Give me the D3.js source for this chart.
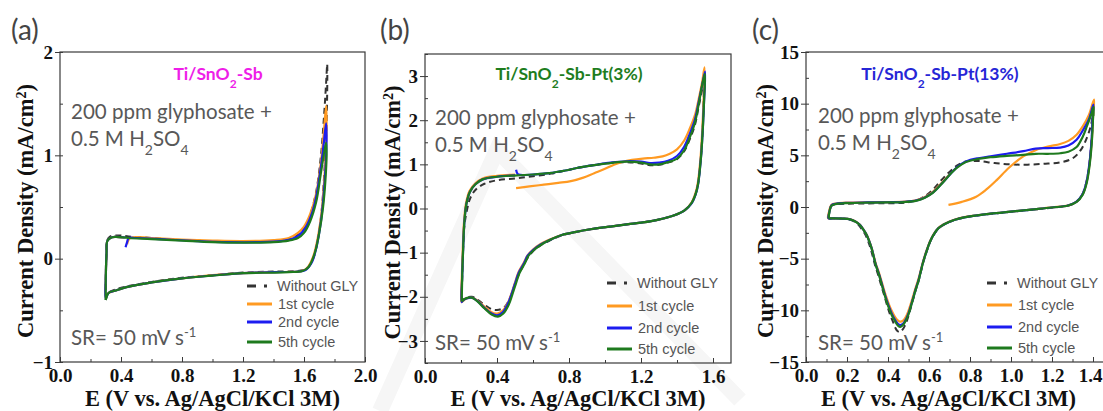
<!DOCTYPE html>
<html>
<head>
<meta charset="utf-8">
<script src="https://cdn.jsdelivr.net/npm/d3@7"></script>
<style>
  body { margin: 0; background: #fff; }
</style>
</head>
<body>
<script>
// legend names and colours, same order in every panel
var seriesNames = ["Without GLY", "1st cycle", "2nd cycle", "5th cycle"];
var seriesColors = ["#333333", "#ff9a22", "#1c1cf0", "#1e7a1e"];

// ---- panel (a) Ti/SnO2-Sb : [E, j]
var aWithout = [[0.30,-0.40],[0.30,-0.2],[0.305,0.05],[0.31,0.18],[0.33,0.215],[0.38,0.225],[0.45,0.215],[0.6,0.2],[0.8,0.18],[1.0,0.17],[1.2,0.165],[1.4,0.17],[1.5,0.19],[1.56,0.23],[1.6,0.29],[1.64,0.42],[1.68,0.65],[1.71,0.98],[1.73,1.35],[1.745,1.7],[1.752,1.88],
  [1.752,1.6],[1.745,1.2],[1.73,0.75],[1.715,0.45],[1.69,0.18],[1.66,0.0],[1.62,-0.09],[1.58,-0.115],[1.4,-0.125],[1.2,-0.135],[1.0,-0.16],[0.8,-0.185],[0.6,-0.225],[0.45,-0.265],[0.36,-0.3],[0.32,-0.33],[0.30,-0.40]];
var aCycle1 = [[0.44,0.14],[0.46,0.2],[0.6,0.2],[0.8,0.185],[1.0,0.175],[1.2,0.17],[1.4,0.18],[1.5,0.2],[1.56,0.25],[1.6,0.31],[1.64,0.43],[1.68,0.63],[1.71,0.92],[1.73,1.22],[1.745,1.48],
  [1.748,1.3],[1.742,1.0],[1.73,0.7],[1.715,0.45],[1.69,0.2],[1.66,0.02],[1.62,-0.09],[1.58,-0.12],[1.4,-0.13],[1.2,-0.14],[1.0,-0.16],[0.8,-0.19],[0.6,-0.23],[0.45,-0.27],[0.36,-0.31],[0.32,-0.33],[0.30,-0.36],
  [0.30,-0.2],[0.305,0.05],[0.31,0.17],[0.33,0.2],[0.36,0.21],[0.42,0.205]];
var aCycle2 = [[0.43,0.11],[0.44,0.16],[0.45,0.2],[0.5,0.2],[0.7,0.185],[0.9,0.17],[1.1,0.16],[1.3,0.16],[1.45,0.17],[1.52,0.19],[1.57,0.23],[1.61,0.3],[1.65,0.43],[1.68,0.6],[1.71,0.88],[1.73,1.12],[1.745,1.31],
  [1.748,1.15],[1.742,0.9],[1.728,0.6],[1.71,0.35],[1.68,0.1],[1.65,-0.04],[1.61,-0.11],[1.56,-0.125],[1.4,-0.13],[1.2,-0.14],[1.0,-0.163],[0.8,-0.19],[0.6,-0.23],[0.45,-0.27],[0.36,-0.31],[0.32,-0.33],[0.30,-0.38],
  [0.30,-0.2],[0.305,0.05],[0.31,0.17],[0.33,0.2],[0.36,0.21],[0.43,0.205]];
var aCycle5 = [[0.30,-0.40],[0.30,-0.2],[0.305,0.05],[0.31,0.17],[0.33,0.2],[0.36,0.21],[0.45,0.2],[0.6,0.19],[0.8,0.175],[1.0,0.16],[1.2,0.155],[1.4,0.16],[1.5,0.175],[1.56,0.2],[1.6,0.25],[1.64,0.36],[1.68,0.55],[1.71,0.82],[1.735,1.05],[1.745,1.12],
  [1.748,1.0],[1.74,0.75],[1.725,0.5],[1.70,0.25],[1.67,0.05],[1.63,-0.08],[1.59,-0.12],[1.5,-0.13],[1.4,-0.135],[1.2,-0.14],[1.0,-0.165],[0.8,-0.19],[0.6,-0.23],[0.45,-0.27],[0.36,-0.31],[0.32,-0.33],[0.30,-0.40]];

// ---- panel (b) Ti/SnO2-Sb-Pt(3%)
var bWithout = [[0.204,-2.11],[0.207,-1.5],[0.212,-0.9],[0.22,-0.35],[0.235,0.0],[0.25,0.22],[0.28,0.42],[0.33,0.56],[0.40,0.64],[0.5,0.68],[0.6,0.73],[0.7,0.79],[0.78,0.86],[0.86,0.93],[0.95,0.99],[1.03,1.03],[1.12,1.05],[1.2,1.02],[1.25,0.98],[1.3,0.99],[1.35,1.04],[1.40,1.12],[1.44,1.3],[1.47,1.56],[1.50,1.9],[1.52,2.3],[1.54,2.7],[1.55,2.95],
  [1.547,2.3],[1.54,1.6],[1.53,1.05],[1.51,0.42],[1.48,0.12],[1.44,-0.05],[1.40,-0.13],[1.33,-0.22],[1.25,-0.29],[1.14,-0.35],[1.03,-0.41],[0.92,-0.47],[0.84,-0.53],[0.76,-0.61],[0.69,-0.73],[0.64,-0.84],[0.60,-0.97],[0.57,-1.12],[0.545,-1.3],[0.515,-1.55],[0.49,-1.82],[0.47,-2.05],[0.44,-2.24],[0.40,-2.3],[0.37,-2.28],[0.33,-2.18],[0.29,-2.06],[0.26,-2.0],[0.23,-2.02],[0.21,-2.08],[0.204,-2.11]];
var bCycle1 = [[0.506,0.46],[0.58,0.5],[0.66,0.54],[0.74,0.58],[0.81,0.62],[0.88,0.7],[0.94,0.8],[1.0,0.9],[1.05,0.99],[1.1,1.06],[1.15,1.1],[1.21,1.13],[1.27,1.15],[1.32,1.18],[1.36,1.24],[1.40,1.34],[1.44,1.54],[1.47,1.8],[1.50,2.12],[1.52,2.47],[1.54,2.87],[1.553,3.2],
  [1.548,2.5],[1.54,1.75],[1.53,1.12],[1.51,0.46],[1.48,0.13],[1.44,-0.05],[1.40,-0.13],[1.33,-0.22],[1.25,-0.29],[1.14,-0.35],[1.03,-0.41],[0.92,-0.47],[0.84,-0.53],[0.76,-0.6],[0.69,-0.71],[0.64,-0.81],[0.60,-0.93],[0.57,-1.06],[0.55,-1.22],[0.52,-1.44],[0.50,-1.68],[0.48,-1.93],[0.46,-2.14],[0.43,-2.32],[0.40,-2.38],[0.37,-2.35],[0.33,-2.22],[0.29,-2.08],[0.26,-2.02],[0.23,-2.04],[0.21,-2.1],[0.203,-2.12],
  [0.205,-1.5],[0.21,-0.9],[0.216,-0.35],[0.228,0.12],[0.248,0.4],[0.28,0.57],[0.32,0.68],[0.40,0.74],[0.50,0.77]];
var bCycle2 = [[0.506,0.88],[0.515,0.78],[0.53,0.76],[0.6,0.77],[0.69,0.8],[0.78,0.86],[0.86,0.93],[0.95,0.99],[1.03,1.04],[1.12,1.07],[1.2,1.06],[1.25,1.03],[1.3,1.04],[1.35,1.08],[1.40,1.19],[1.44,1.4],[1.47,1.68],[1.50,2.02],[1.52,2.4],[1.54,2.8],[1.556,3.1],
  [1.55,2.4],[1.542,1.7],[1.532,1.1],[1.512,0.44],[1.482,0.12],[1.44,-0.05],[1.40,-0.13],[1.33,-0.22],[1.25,-0.29],[1.14,-0.35],[1.03,-0.41],[0.92,-0.47],[0.84,-0.53],[0.76,-0.6],[0.69,-0.72],[0.64,-0.82],[0.60,-0.94],[0.57,-1.07],[0.55,-1.24],[0.52,-1.46],[0.50,-1.7],[0.48,-1.95],[0.46,-2.16],[0.43,-2.36],[0.40,-2.42],[0.37,-2.38],[0.33,-2.25],[0.29,-2.09],[0.26,-2.02],[0.23,-2.04],[0.21,-2.09],[0.204,-2.12],
  [0.207,-1.5],[0.212,-0.9],[0.218,-0.35],[0.23,0.1],[0.25,0.38],[0.28,0.55],[0.32,0.66],[0.40,0.72],[0.50,0.75]];
var bCycle5 = [[0.204,-2.11],[0.207,-1.5],[0.212,-0.9],[0.218,-0.35],[0.23,0.1],[0.25,0.38],[0.28,0.55],[0.32,0.66],[0.40,0.72],[0.51,0.75],[0.60,0.77],[0.69,0.8],[0.78,0.86],[0.86,0.93],[0.95,0.99],[1.03,1.03],[1.12,1.06],[1.2,1.04],[1.25,1.0],[1.3,1.0],[1.35,1.05],[1.40,1.13],[1.44,1.32],[1.47,1.6],[1.50,1.95],[1.52,2.35],[1.54,2.8],[1.555,3.05],
  [1.55,2.4],[1.542,1.7],[1.532,1.1],[1.512,0.45],[1.482,0.13],[1.44,-0.05],[1.40,-0.13],[1.33,-0.22],[1.25,-0.29],[1.14,-0.35],[1.03,-0.41],[0.92,-0.47],[0.84,-0.53],[0.76,-0.6],[0.69,-0.72],[0.645,-0.82],[0.605,-0.94],[0.575,-1.07],[0.555,-1.24],[0.525,-1.46],[0.505,-1.7],[0.485,-1.95],[0.465,-2.18],[0.435,-2.38],[0.405,-2.45],[0.37,-2.4],[0.33,-2.26],[0.29,-2.1],[0.26,-2.02],[0.23,-2.03],[0.21,-2.08],[0.204,-2.11]];

// ---- panel (c) Ti/SnO2-Sb-Pt(13%)
var cWithout = [[0.11,-1.1],[0.115,-0.4],[0.125,0.12],[0.15,0.26],[0.2,0.32],[0.3,0.35],[0.4,0.36],[0.48,0.42],[0.54,0.65],[0.58,1.05],[0.62,1.7],[0.66,2.6],[0.70,3.4],[0.74,4.05],[0.78,4.4],[0.84,4.45],[0.92,4.25],[1.0,4.12],[1.08,4.1],[1.16,4.18],[1.24,4.32],[1.30,4.7],[1.34,5.5],[1.37,6.7],[1.39,7.9],[1.402,9.2],
  [1.398,7.8],[1.39,5.8],[1.38,3.8],[1.365,2.2],[1.345,1.1],[1.315,0.42],[1.275,0.12],[1.2,-0.07],[1.1,-0.27],[1.0,-0.47],[0.9,-0.67],[0.8,-0.92],[0.75,-1.12],[0.70,-1.44],[0.67,-1.75],[0.645,-2.1],[0.625,-2.65],[0.605,-3.4],[0.588,-4.35],[0.572,-5.35],[0.56,-6.3],[0.547,-7.3],[0.533,-8.2],[0.52,-9.1],[0.506,-10.1],[0.494,-10.9],[0.482,-11.5],[0.47,-11.9],[0.458,-12.1],[0.446,-12.0],[0.436,-11.7],[0.424,-11.1],[0.41,-10.4],[0.397,-9.6],[0.384,-8.7],[0.37,-7.8],[0.354,-6.7],[0.338,-5.7],[0.326,-4.8],[0.315,-4.0],[0.303,-3.3],[0.29,-2.7],[0.274,-2.2],[0.257,-1.75],[0.235,-1.4],[0.21,-1.2],[0.17,-1.12],[0.13,-1.1],[0.11,-1.1]];
var cCycle1 = [[0.695,0.2],[0.76,0.5],[0.83,1.0],[0.88,1.7],[0.93,2.6],[0.99,3.8],[1.06,4.9],[1.12,5.5],[1.18,5.85],[1.24,6.1],[1.28,6.4],[1.32,7.0],[1.35,7.8],[1.38,8.9],[1.405,10.4],
  [1.40,8.8],[1.395,6.7],[1.385,4.5],[1.37,2.5],[1.35,1.25],[1.32,0.52],[1.28,0.16],[1.2,-0.04],[1.1,-0.24],[1.0,-0.44],[0.9,-0.64],[0.8,-0.88],[0.75,-1.08],[0.70,-1.4],[0.67,-1.7],[0.645,-2.05],[0.625,-2.55],[0.605,-3.3],[0.588,-4.2],[0.572,-5.2],[0.56,-6.1],[0.548,-7.0],[0.535,-7.8],[0.523,-8.6],[0.51,-9.45],[0.499,-10.1],[0.488,-10.6],[0.478,-10.9],[0.468,-11.05],[0.459,-11.1],[0.45,-11.0],[0.442,-10.85],[0.43,-10.5],[0.418,-10.05],[0.406,-9.5],[0.394,-8.85],[0.382,-8.1],[0.37,-7.3],[0.355,-6.3],[0.34,-5.45],[0.33,-4.7],[0.32,-3.95],[0.308,-3.25],[0.296,-2.68],[0.28,-2.18],[0.263,-1.72],[0.24,-1.38],[0.215,-1.19],[0.18,-1.12],[0.13,-1.1],[0.108,-1.1],
  [0.113,-0.4],[0.123,0.2],[0.15,0.34],[0.2,0.42],[0.3,0.46],[0.4,0.48],[0.48,0.52],[0.54,0.68],[0.58,0.98],[0.62,1.5],[0.66,2.3],[0.70,3.15]];
var cCycle2 = [[0.70,3.1],[0.74,3.9],[0.78,4.4],[0.84,4.72],[0.90,4.9],[0.98,5.15],[1.06,5.4],[1.12,5.65],[1.18,5.7],[1.24,5.75],[1.28,5.95],[1.32,6.5],[1.35,7.4],[1.38,8.5],[1.402,9.9],
  [1.398,8.6],[1.393,6.5],[1.383,4.3],[1.368,2.4],[1.348,1.2],[1.318,0.5],[1.278,0.15],[1.2,-0.05],[1.1,-0.25],[1.0,-0.45],[0.9,-0.65],[0.8,-0.9],[0.75,-1.1],[0.70,-1.42],[0.67,-1.72],[0.645,-2.07],[0.625,-2.6],[0.605,-3.35],[0.588,-4.28],[0.572,-5.28],[0.56,-6.2],[0.548,-7.15],[0.535,-7.95],[0.523,-8.8],[0.51,-9.68],[0.499,-10.35],[0.488,-10.85],[0.478,-11.2],[0.468,-11.38],[0.459,-11.42],[0.45,-11.33],[0.442,-11.15],[0.43,-10.78],[0.418,-10.3],[0.406,-9.72],[0.394,-9.05],[0.382,-8.3],[0.37,-7.45],[0.355,-6.42],[0.34,-5.55],[0.33,-4.76],[0.32,-3.98],[0.308,-3.28],[0.296,-2.7],[0.28,-2.19],[0.263,-1.73],[0.24,-1.39],[0.215,-1.2],[0.18,-1.12],[0.13,-1.1],[0.11,-1.1],
  [0.115,-0.4],[0.125,0.18],[0.15,0.32],[0.2,0.4],[0.3,0.44],[0.4,0.46],[0.48,0.5],[0.54,0.64],[0.58,0.93],[0.62,1.42],[0.66,2.22],[0.70,3.1]];
var cCycle5 = [[0.11,-1.1],[0.115,-0.4],[0.125,0.15],[0.15,0.3],[0.2,0.38],[0.3,0.42],[0.4,0.44],[0.48,0.48],[0.54,0.62],[0.58,0.9],[0.62,1.4],[0.66,2.2],[0.70,3.1],[0.74,3.85],[0.78,4.35],[0.84,4.65],[0.90,4.82],[0.98,4.95],[1.06,5.05],[1.12,5.15],[1.18,5.15],[1.24,5.2],[1.28,5.35],[1.32,5.8],[1.35,6.8],[1.37,7.8],[1.39,8.9],[1.403,9.7],
  [1.40,8.5],[1.395,6.5],[1.385,4.3],[1.37,2.4],[1.35,1.2],[1.32,0.5],[1.28,0.15],[1.2,-0.05],[1.1,-0.25],[1.0,-0.45],[0.9,-0.65],[0.8,-0.9],[0.75,-1.1],[0.70,-1.42],[0.67,-1.72],[0.645,-2.07],[0.625,-2.6],[0.605,-3.36],[0.588,-4.3],[0.572,-5.3],[0.56,-6.25],[0.548,-7.2],[0.535,-8.0],[0.523,-8.84],[0.51,-9.75],[0.499,-10.45],[0.488,-10.95],[0.478,-11.3],[0.468,-11.5],[0.459,-11.6],[0.45,-11.5],[0.442,-11.3],[0.43,-10.9],[0.418,-10.45],[0.406,-9.85],[0.394,-9.2],[0.382,-8.4],[0.37,-7.55],[0.355,-6.5],[0.34,-5.6],[0.33,-4.8],[0.32,-4.0],[0.308,-3.3],[0.296,-2.71],[0.28,-2.2],[0.263,-1.74],[0.24,-1.4],[0.215,-1.2],[0.18,-1.12],[0.13,-1.1],[0.11,-1.1]];

// axis ticks
var aXTicks = [0, 0.4, 0.8, 1.2, 1.6, 2.0], aYTicks = [-1, 0, 1, 2];
var bXTicks = [0, 0.4, 0.8, 1.2, 1.6], bYTicks = [-3, -2, -1, 0, 1, 2, 3];
var cXTicks = [0, 0.2, 0.4, 0.6, 0.8, 1.0, 1.2, 1.4], cYTicks = [-15, -10, -5, 0, 5, 10, 15];

var W = 1103, H = 411;
var serif = "'Liberation Serif', 'Times New Roman', serif",
    sans = "Lato, 'Open Sans', sans-serif";

var svg = d3.select("body").append("svg")
  .attr("width", W).attr("height", H);

var panels = [
  {id: "a", letter: "(a)", letterX: 11, title: ["Ti/SnO", "2", "-Sb"], titleColor: "#ee1ee8", titleX: 218,
   x0: 60, x1: 365, xDomain: [0, 2.0], y0: 362, y1: 52, yDomain: [-1, 2],
   xTicks: aXTicks, xMinor: d3.range(0, 2.01, 0.2), yTicks: aYTicks, yMinor: d3.range(-1, 2.01, 0.5),
   yTitleX: 33, noteX: 71, noteY: 119, srY: 345, legX: 247, legY: [286, 304, 322, 342],
   data: [aWithout, aCycle1, aCycle2, aCycle5]},
  {id: "b", letter: "(b)", letterX: 380, title: ["Ti/SnO", "2", "-Sb-Pt(3%)"], titleColor: "#1e7d1e", titleX: 569,
   x0: 425, x1: 731, xDomain: [0, 1.7], y0: 363, y1: 54, yDomain: [-3.5, 3.5],
   xTicks: bXTicks, xMinor: d3.range(0, 1.71, 0.2), yTicks: bYTicks, yMinor: d3.range(-3.5, 3.51, 0.5),
   yTitleX: 400, noteX: 435, noteY: 125, srY: 350, legX: 607, legY: [283, 306, 328, 349],
   data: [bWithout, bCycle1, bCycle2, bCycle5]},
  {id: "c", letter: "(c)", letterX: 752, title: ["Ti/SnO", "2", "-Sb-Pt(13%)"], titleColor: "#2626d6", titleX: 940,
   x0: 806, x1: 1113.5, xDomain: [0, 1.5], y0: 362, y1: 52, yDomain: [-15, 15],
   xTicks: cXTicks, xMinor: d3.range(0, 1.51, 0.1), yTicks: cYTicks, yMinor: d3.range(-15, 15.1, 2.5),
   yTitleX: 773, noteX: 818, noteY: 123, srY: 350, legX: 987, legY: [283, 305, 327, 348],
   data: [cWithout, cCycle1, cCycle2, cCycle5]}
];

// faint watermark behind panel (b)
svg.append("path")
  .attr("d", "M380,411 L497,150 L740,400")
  .attr("fill", "none").attr("stroke", "#f6f6f6").attr("stroke-width", 16);

panels.forEach(function(p) {
  var x = d3.scaleLinear().domain(p.xDomain).range([p.x0, p.x1]);
  var y = d3.scaleLinear().domain(p.yDomain).range([p.y0, p.y1]);
  var g = svg.append("g");

  g.append("clipPath").attr("id", "clip-" + p.id)
    .append("rect").attr("x", p.x0).attr("y", p.y1)
    .attr("width", p.x1 - p.x0).attr("height", p.y0 - p.y1);

  // panel letter
  g.append("text").attr("x", p.letterX).attr("y", 40)
    .style("font-family", sans).style("font-size", "28px")
    .attr("fill", "#444").text(p.letter);

  // frame
  g.append("rect").attr("x", p.x0).attr("y", p.y1)
    .attr("width", p.x1 - p.x0).attr("height", p.y0 - p.y1)
    .attr("fill", "none").attr("stroke", "#3a3a3a").attr("stroke-width", 1.2);

  // x axis: ticks pointing into the box
  var xMinorAxis = d3.axisBottom(x).tickValues(p.xMinor).tickSize(-3).tickFormat("");
  g.append("g").attr("transform", "translate(0," + p.y0 + ")").call(xMinorAxis)
    .call(function(s) { s.select(".domain").remove(); });
  var xAxis = d3.axisBottom(x).tickValues(p.xTicks).tickSize(-5).tickPadding(7)
    .tickFormat(d3.format(".1f"));
  g.append("g").attr("transform", "translate(0," + p.y0 + ")").call(xAxis)
    .call(function(s) {
      s.select(".domain").remove();
      s.selectAll("text").style("font-family", serif)
        .style("font-size", "19px").style("font-weight", "bold").attr("fill", "#111")
        .attr("dx", function(d) { return (p.id == "c" && d == 1.4) ? -3 : 0; });
    });

  // y axis: major ticks outward, minor inward
  var yMinorAxis = d3.axisRight(y).tickValues(p.yMinor).tickSize(3).tickFormat("");
  g.append("g").attr("transform", "translate(" + p.x0 + ",0)").call(yMinorAxis)
    .call(function(s) { s.select(".domain").remove(); });
  var yAxis = d3.axisLeft(y).tickValues(p.yTicks).tickSize(5).tickPadding(2)
    .tickFormat(d3.format("d"));
  g.append("g").attr("transform", "translate(" + p.x0 + ",0)").call(yAxis)
    .call(function(s) {
      s.select(".domain").remove();
      s.selectAll("text").style("font-family", serif)
        .style("font-size", "19px").style("font-weight", "bold").attr("fill", "#111");
    });
  g.selectAll(".tick line").attr("stroke", "#3a3a3a");

  // axis titles
  g.append("text").attr("x", (p.x0 + Math.min(p.x1, W)) / 2 + (p.id == "c" ? -6 : 0)).attr("y", 406)
    .attr("text-anchor", "middle").style("font-family", serif)
    .style("font-size", "22.5px").style("font-weight", "bold")
    .attr("fill", "#111").text("E (V vs. Ag/AgCl/KCl 3M)");
  var yt = g.append("text")
    .attr("transform", "translate(" + p.yTitleX + "," + ((p.y0 + p.y1) / 2 + 4) + ") rotate(-90)")
    .attr("text-anchor", "middle").style("font-family", serif)
    .style("font-size", "22.5px").style("font-weight", "bold")
    .attr("fill", "#111");
  yt.append("tspan").text("Current Density (mA/cm");
  yt.append("tspan").attr("baseline-shift", "super").style("font-size", "14px").text("2");
  yt.append("tspan").text(")");

  // title of the electrode
  var tt = g.append("text").attr("x", p.titleX).attr("y", 80).attr("text-anchor", "middle")
    .style("font-family", sans).style("font-size", "17.5px").style("font-weight", "bold")
    .attr("fill", p.titleColor);
  tt.append("tspan").text(p.title[0]);
  tt.append("tspan").attr("baseline-shift", "sub").style("font-size", "12px").text(p.title[1]);
  tt.append("tspan").text(p.title[2]);

  // notes
  function note(yy) {
    return g.append("text").attr("x", p.noteX).attr("y", yy)
      .style("font-family", sans).style("font-size", "20.5px").attr("fill", "#585858");
  }
  note(p.noteY).text("200 ppm glyphosate +");
  var n2 = note(p.noteY + 27);
  n2.append("tspan").text("0.5 M H");
  n2.append("tspan").attr("baseline-shift", "sub").style("font-size", "14px").text("2");
  n2.append("tspan").text("SO");
  n2.append("tspan").attr("baseline-shift", "sub").style("font-size", "14px").text("4");
  var sr = note(p.srY);
  sr.append("tspan").text("SR= 50 mV s");
  sr.append("tspan").attr("baseline-shift", "super").style("font-size", "13px").text("-1");

  // curves
  var line = d3.line().x(function(d) { return x(d[0]); }).y(function(d) { return y(d[1]); })
    .curve(d3.curveCatmullRom.alpha(0.5));
  var cg = g.append("g").attr("clip-path", "url(#clip-" + p.id + ")");
  p.data.forEach(function(s, i) {
    cg.append("path").datum(s).attr("d", line)
      .attr("fill", "none").attr("stroke", seriesColors[i])
      .attr("stroke-width", i == 0 ? 2 : 2.2)
      .attr("stroke-dasharray", i == 0 ? "6,4" : null)
      .attr("stroke-linejoin", "round");
  });

  // legend
  seriesNames.forEach(function(name, i) {
    g.append("line").attr("x1", p.legX).attr("x2", p.legX + 25)
      .attr("y1", p.legY[i]).attr("y2", p.legY[i])
      .attr("stroke", seriesColors[i]).attr("stroke-width", 3)
      .attr("stroke-dasharray", i == 0 ? "9,8,3,8" : null);
    g.append("text").attr("x", p.legX + (i == 0 ? 30 : 31)).attr("y", p.legY[i] + 5)
      .style("font-family", "'Liberation Sans', Arial, sans-serif").style("font-size", "14.5px")
      .attr("fill", "#555").text(name);
  });
});
</script>
</body>
</html>
